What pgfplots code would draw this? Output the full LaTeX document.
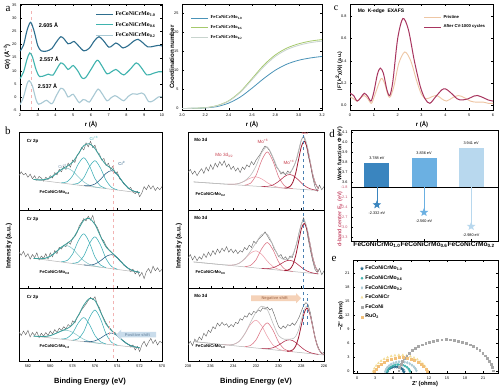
\documentclass[border=0pt]{standalone}
\usepackage{fontspec}
\setmainfont{Liberation Sans}
\newfontfamily\serif{Liberation Serif}
\usepackage{pgfplots}
\pgfplotsset{compat=1.18}
\usetikzlibrary{shapes.arrows}
\newcommand{\fs}[1]{\fontsize{#1}{#1}\selectfont}
\definecolor{aD}{HTML}{2E6E8E}
\definecolor{aT}{HTML}{3FB3AE}
\definecolor{aL}{HTML}{A9C9D4}
\definecolor{mB}{HTML}{4A93B8}
\definecolor{mG}{HTML}{A5C96B}
\definecolor{mL}{HTML}{C8D4CE}
\definecolor{cP}{HTML}{EEC6A4}
\definecolor{cA}{HTML}{A8355F}
\definecolor{rawc}{HTML}{5E5E5E}
\definecolor{bgc}{HTML}{B4B4B4}
\definecolor{env}{HTML}{3C9E9A}
\definecolor{cr6}{HTML}{86C6C9}
\definecolor{cr3}{HTML}{3CAEB6}
\definecolor{cr0}{HTML}{235A82}
\definecolor{mo1}{HTML}{EDA0AC}
\definecolor{mo2}{HTML}{DC7383}
\definecolor{mo3}{HTML}{B02A48}
\definecolor{mo4}{HTML}{9E1730}
\definecolor{moenv}{HTML}{BDBDBD}
\definecolor{lab}{HTML}{C8414F}
\definecolor{dB1}{HTML}{3A85BF}
\definecolor{dB2}{HTML}{6BB0E2}
\definecolor{dB3}{HTML}{B8D8EE}
\definecolor{dpink}{HTML}{C9516E}
\definecolor{eFN}{HTML}{A8A8A8}
\definecolor{eRu}{HTML}{F2C07A}
\definecolor{eCr}{HTML}{F3DE9A}
\definecolor{vpink}{HTML}{F2B3B3}
\definecolor{vblue}{HTML}{4A7FB0}
\definecolor{crarr}{HTML}{C9DCEB}
\definecolor{crtxt}{HTML}{7C97B0}
\definecolor{moarr}{HTML}{F5D2B8}
\definecolor{motxt}{HTML}{B07E62}
\pgfdeclareplotmark{fstar}{%
  \pgfpathmoveto{\pgfpointpolar{90}{\pgfplotmarksize}}%
  \pgfpathlineto{\pgfpointpolar{126}{0.42\pgfplotmarksize}}%
  \pgfpathlineto{\pgfpointpolar{162}{\pgfplotmarksize}}%
  \pgfpathlineto{\pgfpointpolar{198}{0.42\pgfplotmarksize}}%
  \pgfpathlineto{\pgfpointpolar{234}{\pgfplotmarksize}}%
  \pgfpathlineto{\pgfpointpolar{270}{0.42\pgfplotmarksize}}%
  \pgfpathlineto{\pgfpointpolar{306}{\pgfplotmarksize}}%
  \pgfpathlineto{\pgfpointpolar{342}{0.42\pgfplotmarksize}}%
  \pgfpathlineto{\pgfpointpolar{18}{\pgfplotmarksize}}%
  \pgfpathlineto{\pgfpointpolar{54}{0.42\pgfplotmarksize}}%
  \pgfpathclose
  \pgfusepathqfillstroke}
\pgfplotsset{
  base/.style={scale only axis, anchor=south west, line width=0.4pt,
    major tick length=1.6pt, minor tick length=1pt,
    every tick/.style={line width=0.3pt, black},
    tick label style={font=\fs{3.8}},
    /pgf/number format/assume math mode=true},
  crax/.style={base, width=143pt, xmin=570, xmax=582.8, x dir=reverse, ymin=0, ymax=100,
    ytick=\empty, xtick={570,572,...,582}, minor x tick num=1, tick pos=left},
  moax/.style={base, width=136pt, xmin=226, xmax=238, x dir=reverse, ymin=0, ymax=100,
    ytick=\empty, xtick={226,228,...,238}, minor x tick num=1, tick pos=left},
  rawst/.style={color=rawc, line width=0.4pt},
  bgst/.style={color=bgc, line width=0.5pt},
  envst/.style={color=env, line width=0.8pt, smooth},
  compst/.style={line width=0.55pt, smooth},
  moenvst/.style={color=moenv, line width=0.6pt, smooth},
}
\begin{document}
\begin{tikzpicture}[x=1pt,y=1pt]
\fill[white] (0,0) rectangle (500,389);
\path[use as bounding box] (0,0) rectangle (500,389);

%================ panel a (left) =================
\begin{axis}[base, at={(20pt,279pt)}, width=142pt, height=106pt,
  xmin=2, xmax=10, ymin=-5, ymax=35.5, xtick={2,...,10}, ytick={-5,0,...,35},
  legend style={draw=none, fill=none, font=\serif\bfseries\fs{5.8}, at={(0.99,0.97)}, anchor=north east, row sep=1.2pt},
  legend cell align=left]
\draw[dashed, color=vpink, line width=0.6pt] (axis cs:2.65,-5) -- (axis cs:2.65,33.5);
\addplot[aD, line width=1.1pt, smooth] coordinates {(2.0,17.5) (2.2,19.8) (2.4,25.5) (2.6,28.5) (2.8,25.0) (3.0,19.6) (3.2,17.6) (3.5,17.5) (3.8,18.5) (4.0,20.5) (4.3,23.0) (4.5,22.0) (4.7,20.3) (4.85,20.5) (5.05,21.2) (5.3,19.5) (5.6,17.6) (5.9,18.6) (6.2,21.5) (6.45,23.0) (6.7,21.5) (7.0,19.0) (7.2,19.6) (7.4,20.6) (7.6,19.8) (7.8,18.7) (8.1,19.6) (8.4,21.3) (8.65,22.0) (8.9,20.8) (9.2,19.1) (9.5,19.3) (9.8,19.7) (10.0,19.5)};
\addlegendentry{FeCoNiCrMo\textsubscript{1.0}}
\addplot[aT, line width=1.1pt, smooth] coordinates {(2.0,7.0) (2.2,9.5) (2.4,14.5) (2.55,16.8) (2.7,15.3) (2.9,10.5) (3.1,7.8) (3.4,8.2) (3.6,8.7) (3.85,8.3) (4.1,11.0) (4.3,13.0) (4.5,12.2) (4.7,10.5) (4.85,11.2) (5.0,12.0) (5.25,10.0) (5.5,7.2) (5.7,7.4) (6.0,10.5) (6.35,14.0) (6.6,12.0) (6.9,8.8) (7.15,9.6) (7.4,10.5) (7.6,9.5) (7.85,8.4) (8.2,10.5) (8.55,13.0) (8.8,11.5) (9.15,8.4) (9.5,9.0) (9.8,9.6) (10.0,9.6)};
\addlegendentry{FeCoNiCrMo\textsubscript{0.6}}
\addplot[aL, line width=1.1pt, smooth] coordinates {(2.0,-3.0) (2.2,0.0) (2.4,5.0) (2.52,6.2) (2.7,4.2) (2.9,-1.0) (3.05,-2.8) (3.3,-2.0) (3.5,-1.3) (3.8,-2.6) (4.05,0.5) (4.3,3.3) (4.5,2.5) (4.7,0.0) (4.85,0.5) (5.0,1.0) (5.2,-1.0) (5.35,-2.2) (5.55,-1.0) (5.7,-1.2) (5.9,-2.0) (6.15,0.5) (6.4,3.0) (6.6,1.5) (6.9,-1.5) (7.1,-0.5) (7.35,0.5) (7.6,-0.5) (7.85,-1.5) (8.1,0.2) (8.35,1.2) (8.6,1.0) (8.85,1.5) (9.0,1.0) (9.25,-1.8) (9.5,-1.5) (9.8,0.0) (10.0,0.0)};
\addlegendentry{FeCoNiCrMo\textsubscript{0.2}}
\node[font=\bfseries\fs{5.5}] at (axis cs:3.6,27.5) {2.605 Å};
\node[font=\bfseries\fs{5.5}] at (axis cs:3.65,14.5) {2.557 Å};
\node[font=\bfseries\fs{5.5}] at (axis cs:3.55,4.0) {2.537 Å};
\end{axis}

%================ panel a (middle) =================
\begin{axis}[base, at={(182pt,279pt)}, width=140pt, height=106pt,
  xmin=2.0, xmax=3.2, ymin=-0.4, ymax=27.3, xtick={2.0,2.2,...,3.2}, ytick={0,5,...,25},
  xticklabel style={/pgf/number format/.cd, fixed, fixed zerofill, precision=1},
  legend style={draw=none, fill=none, font=\serif\bfseries\fs{4.6}, at={(0.04,0.93)}, anchor=north west, row sep=1pt},
  legend cell align=left]
\addplot[mB, line width=0.8pt, smooth] coordinates {(2.0,0) (2.1,0.03) (2.2,0.15) (2.3,0.5) (2.4,1.4) (2.5,3.0) (2.6,5.3) (2.7,7.8) (2.8,10.0) (2.9,11.6) (3.0,12.6) (3.1,13.2) (3.2,13.6)};
\addlegendentry{FeCoNiCrMo\textsubscript{1.0}}
\addplot[mG, line width=0.8pt, smooth] coordinates {(2.0,0) (2.1,0.05) (2.2,0.2) (2.3,0.75) (2.4,2.0) (2.5,4.4) (2.6,7.8) (2.7,11.3) (2.8,14.0) (2.9,15.8) (3.0,16.9) (3.1,17.6) (3.2,18.0)};
\addlegendentry{FeCoNiCrMo\textsubscript{0.6}}
\addplot[mL, line width=0.8pt, smooth] coordinates {(2.0,0) (2.1,0.04) (2.2,0.18) (2.3,0.7) (2.4,1.9) (2.5,4.2) (2.6,7.5) (2.7,10.9) (2.8,13.6) (2.9,15.4) (3.0,16.5) (3.1,17.2) (3.2,17.6)};
\addlegendentry{FeCoNiCrMo\textsubscript{0.2}}
\end{axis}

%================ panel c =================
\begin{axis}[base, at={(350pt,279pt)}, width=143pt, height=106pt,
  xmin=0, xmax=6, ymin=-0.04, ymax=0.91, xtick={0,...,6}, ytick={0,0.2,...,0.8},
  yticklabel style={/pgf/number format/.cd, fixed, fixed zerofill, precision=1},
  legend style={draw=none, fill=none, font=\bfseries\fs{4.2}, at={(0.98,0.93)}, anchor=north east, row sep=0.6pt},
  legend cell align=left]
\addplot[cP, line width=0.9pt, smooth] coordinates {(0,0.08) (0.15,0.06) (0.3,0.04) (0.45,0.07) (0.6,0.09) (0.75,0.06) (0.9,0.02) (1.05,0.10) (1.3,0.24) (1.45,0.20) (1.6,0.09) (1.7,0.08) (1.85,0.18) (2.05,0.38) (2.3,0.48) (2.55,0.40) (2.8,0.22) (3.0,0.10) (3.2,0.06) (3.45,0.08) (3.65,0.09) (3.85,0.06) (4.05,0.04) (4.3,0.07) (4.55,0.09) (4.8,0.07) (5.05,0.04) (5.3,0.03) (5.6,0.03) (5.8,0.02) (6.0,0.02)};
\addlegendentry{Pristine}
\addplot[cA, line width=1pt, smooth] coordinates {(0,0.11) (0.15,0.09) (0.3,0.04) (0.45,0.07) (0.6,0.11) (0.75,0.08) (0.88,0.04) (1.0,0.12) (1.15,0.28) (1.27,0.335) (1.4,0.29) (1.55,0.14) (1.67,0.09) (1.8,0.22) (2.0,0.60) (2.22,0.78) (2.45,0.68) (2.7,0.40) (2.95,0.17) (3.15,0.06) (3.35,0.02) (3.6,0.08) (3.85,0.14) (4.0,0.15) (4.2,0.12) (4.5,0.06) (4.7,0.05) (4.95,0.06) (5.2,0.085) (5.35,0.09) (5.6,0.07) (5.8,0.05) (6.0,0.04)};
\addlegendentry{After CV-1000 cycles}
\node[font=\bfseries\fs{5}, anchor=west] at (rel axis cs:0.03,0.93) {Mo\ \ K-edge\ \ EXAFS};
\end{axis}

%================ panel b : Cr 2p =================
\begin{axis}[crax, at={(19pt,179pt)}, height=78pt, xticklabels={}]
\addplot[rawst] coordinates {(582.8,44) (582.6,49) (582.4,45) (582.2,47) (582.0,42) (581.8,46) (581.6,40) (581.4,44) (581.2,38) (581.0,43) (580.8,41) (580.6,37) (580.4,42) (580.2,39) (580.0,44) (579.8,41) (579.6,48) (579.4,45) (579.2,52) (579.0,49) (578.8,56) (578.6,52) (578.4,60) (578.2,55) (578.0,64) (577.8,61) (577.6,70) (577.4,73) (577.2,80) (577.0,77) (576.8,86) (576.6,81) (576.4,88) (576.2,80) (576.0,83) (575.8,74) (575.6,72) (575.4,64) (575.2,66) (575.0,57) (574.8,60) (574.6,52) (574.4,56) (574.2,47) (574.0,49) (573.8,40) (573.6,38) (573.4,33) (573.2,31) (573.0,27) (572.8,29) (572.6,23) (572.4,21) (572.2,24) (572.0,17) (571.8,22) (571.6,30) (571.4,26) (571.2,32) (571.0,27) (570.8,31) (570.6,25) (570.4,29) (570.2,26) (570.0,30)};
\addplot[bgst] coordinates {(572,22) (581.5,39.1)};
\addplot[compst, cr6] coordinates {(575.5,28.4) (576,29.6) (576.5,31.8) (577,36.0) (577.5,42.7) (578,49.9) (578.5,53.7) (579,51.7) (579.5,46.3) (580,41.4) (580.5,39.0) (581,38.6) (581.5,39.2)};
\addplot[compst, cr3] coordinates {(575,27.7) (575.5,30.8) (576,40.2) (576.5,56.9) (577,67.0) (577.5,58.7) (578,43.8) (578.5,36.2) (579,34.9)};
\addplot[compst, cr3] coordinates {(574,25.9) (574.5,28.9) (575,37.8) (575.5,53.6) (576,63.2) (576.5,55.4) (577,41.4) (577.5,34.3) (578,33.1)};
\addplot[compst, cr0] coordinates {(572,22.2) (572.5,24.0) (573,27.9) (573.5,35.7) (574,45.3) (574.5,50.5) (575,47.1) (575.5,39.3) (576,33.3) (576.5,31.2) (577,31.2)};
\addplot[envst] coordinates {(572,22.2) (572.5,24.0) (573,27.9) (573.5,35.7) (574,45.6) (574.5,52.9) (575,57.9) (575.5,67.2) (576,78.8) (576.5,84.9) (577,82.6) (577.5,71.8) (578,61.3) (578.5,56.2) (579,52.1) (579.5,46.3) (580,41.4) (580.5,39.0) (581,38.6) (581.5,39.2)};
\draw[dashed, color=vpink, line width=0.6pt] (axis cs:574.35,0) -- (axis cs:574.35,64);
\node[font=\bfseries\fs{4.5}, anchor=west] at (rel axis cs:0.03,0.88) {Cr 2p};
\node[font=\bfseries\fs{4.2}, anchor=west] at (rel axis cs:0.12,0.22) {FeCoNiCrMo\textsubscript{0.2}};
\node[font=\fs{4.3}, text=crtxt] at (axis cs:578.9,56) {Cr\textsuperscript{+6}};
\node[font=\fs{4.3}, text=cr3] at (axis cs:576.1,92) {Cr\textsuperscript{+3}};
\node[font=\fs{4.3}, text=cr0] at (axis cs:573.6,60) {Cr\textsuperscript{0}};
\end{axis}

\begin{axis}[crax, at={(19pt,101pt)}, height=78pt, xticklabels={}]
\addplot[rawst] coordinates {(582.8,46) (582.6,42) (582.4,47) (582.2,40) (582.0,44) (581.8,37) (581.6,43) (581.4,39) (581.2,45) (581.0,36) (580.8,41) (580.6,38) (580.4,44) (580.2,37) (580.0,45) (579.8,40) (579.6,48) (579.4,44) (579.2,52) (579.0,50) (578.8,55) (578.6,53) (578.4,59) (578.2,56) (578.0,64) (577.8,66) (577.6,71) (577.4,80) (577.2,84) (577.0,89) (576.8,86) (576.6,92) (576.4,87) (576.2,93) (576.0,82) (575.8,78) (575.6,71) (575.4,63) (575.2,60) (575.0,54) (574.8,50) (574.6,47) (574.4,44) (574.2,41) (574.0,39) (573.8,35) (573.6,33) (573.4,29) (573.2,27) (573.0,25) (572.8,21) (572.6,24) (572.4,18) (572.2,22) (572.0,15) (571.8,20) (571.6,12) (571.4,21) (571.2,25) (571.0,19) (570.8,28) (570.6,22) (570.4,26) (570.2,21) (570.0,24)};
\addplot[bgst] coordinates {(572,20) (581.5,38.05)};
\addplot[compst, cr6] coordinates {(575.5,26.7) (576,28.1) (576.5,30.4) (577,35.0) (577.5,42.3) (578,50.3) (578.5,54.4) (579,52.2) (579.5,46.1) (580,40.7) (580.5,38.0) (581,37.6) (581.5,38.1)};
\addplot[compst, cr3] coordinates {(575,26.1) (575.5,29.5) (576,39.8) (576.5,58.3) (577,69.5) (577.5,60.2) (578,43.6) (578.5,35.2) (579,33.7)};
\addplot[compst, cr3] coordinates {(574,24.1) (574.5,27.4) (575,37.3) (575.5,54.9) (576,65.6) (576.5,56.8) (577,41.1) (577.5,33.1) (578,31.7)};
\addplot[compst, cr0] coordinates {(572,20.1) (572.5,21.7) (573,25.0) (573.5,31.1) (574,38.6) (574.5,42.8) (575,40.5) (575.5,34.9) (576,30.7) (576.5,29.3) (577,29.6)};
\addplot[envst] coordinates {(572,20.1) (572.5,21.7) (573,25.0) (573.5,31.1) (574,38.9) (574.5,45.4) (575,52.5) (575.5,66.1) (576,81.4) (576.5,89.2) (577,86.8) (577.5,74.7) (578,62.8) (578.5,57.2) (579,52.5) (579.5,46.1) (580,40.7) (580.5,38.0) (581,37.6) (581.5,38.1)};
\draw[dashed, color=vpink, line width=0.6pt] (axis cs:574.35,0) -- (axis cs:574.35,100);
\node[font=\bfseries\fs{4.5}, anchor=west] at (rel axis cs:0.03,0.88) {Cr 2p};
\node[font=\bfseries\fs{4.2}, anchor=west] at (rel axis cs:0.12,0.2) {FeCoNiCrMo\textsubscript{0.6}};
\end{axis}

\begin{axis}[crax, at={(19pt,28pt)}, height=73pt]
\addplot[rawst] coordinates {(582.8,40) (582.6,35) (582.4,41) (582.2,36) (582.0,42) (581.8,33) (581.6,39) (581.4,35) (581.2,40) (581.0,32) (580.8,38) (580.6,34) (580.4,39) (580.2,35) (580.0,41) (579.8,37) (579.6,43) (579.4,39) (579.2,45) (579.0,42) (578.8,47) (578.6,44) (578.4,50) (578.2,47) (578.0,55) (577.8,52) (577.6,60) (577.4,64) (577.2,70) (577.0,74) (576.8,78) (576.6,83) (576.4,87) (576.2,84) (576.0,88) (575.8,78) (575.6,73) (575.4,64) (575.2,58) (575.0,52) (574.8,47) (574.6,44) (574.4,40) (574.2,39) (574.0,35) (573.8,33) (573.6,29) (573.4,27) (573.2,24) (573.0,23) (572.8,19) (572.6,22) (572.4,15) (572.2,20) (572.0,13) (571.8,22) (571.6,27) (571.4,20) (571.2,26) (571.0,31) (570.8,24) (570.6,29) (570.4,22) (570.2,27) (570.0,25)};
\addplot[bgst] coordinates {(572,18) (581.5,34.15)};
\addplot[compst, cr6] coordinates {(575.5,24.0) (576,25.1) (576.5,26.8) (577,29.7) (577.5,34.4) (578,39.3) (578.5,42.1) (579,41.0) (579.5,37.8) (580,34.8) (580.5,33.6) (581,33.6) (581.5,34.2)};
\addplot[compst, cr3] coordinates {(575,23.4) (575.5,26.3) (576,34.9) (576.5,50.2) (577,59.5) (577.5,51.9) (578,38.3) (578.5,31.4) (579,30.2)};
\addplot[compst, cr3] coordinates {(574,21.8) (574.5,25.4) (575,36.9) (575.5,57.4) (576,69.8) (576.5,59.1) (577,40.3) (577.5,30.5) (578,28.6)};
\addplot[compst, cr0] coordinates {(572,18.1) (572.5,19.6) (573,22.5) (573.5,27.9) (574,34.6) (574.5,38.3) (575,36.3) (575.5,31.3) (576,27.6) (576.5,26.4) (577,26.6)};
\addplot[envst] coordinates {(572,18.1) (572.5,19.6) (573,22.5) (573.5,27.9) (574,35.0) (574.5,41.4) (575,50.3) (575.5,67.1) (576,82.9) (576.5,85.5) (577,76.6) (577.5,62.1) (578,49.9) (578.5,44.4) (579,41.3) (579.5,37.8) (580,34.8) (580.5,33.6) (581,33.6) (581.5,34.2)};
\draw[dashed, color=vpink, line width=0.6pt] (axis cs:574.35,4) -- (axis cs:574.35,100);
\draw[dashed, color=vpink, line width=0.6pt] (axis cs:574.7,27) -- (axis cs:574.7,55);
\node[single arrow, shape border rotate=180, fill=crarr, minimum height=40pt, minimum width=10pt, single arrow head extend=2pt, inner sep=0.8pt, font=\bfseries\fs{4}, text=crtxt] at (axis cs:572.2,36) {Positive shift};
\node[font=\bfseries\fs{4.5}, anchor=west] at (rel axis cs:0.03,0.87) {Cr 2p};
\node[font=\bfseries\fs{4.2}, anchor=west] at (rel axis cs:0.12,0.2) {FeCoNiCrMo\textsubscript{1.0}};
\end{axis}

%================ panel b : Mo 3d =================
\begin{axis}[moax, at={(188pt,179pt)}, height=78pt, xticklabels={}]
\addplot[rawst] coordinates {(238.0,48) (237.8,52) (237.6,46) (237.4,50) (237.2,44) (237.0,49) (236.8,53) (236.6,47) (236.4,55) (236.2,50) (236.0,58) (235.8,52) (235.6,60) (235.4,55) (235.2,62) (235.0,57) (234.8,63) (234.6,55) (234.4,59) (234.2,52) (234.0,56) (233.8,50) (233.6,54) (233.4,48) (233.2,55) (233.0,52) (232.8,58) (232.6,55) (232.4,62) (232.2,58) (232.0,64) (231.8,68) (231.6,72) (231.4,78) (231.2,82) (231.0,80) (230.8,76) (230.6,70) (230.4,63) (230.2,55) (230.0,52) (229.8,46) (229.6,49) (229.4,45) (229.2,50) (229.0,47) (228.8,52) (228.6,58) (228.4,66) (228.2,78) (228.0,90) (227.8,95) (227.6,86) (227.4,70) (227.2,58) (227.0,42) (226.8,30) (226.6,24) (226.4,32) (226.2,26) (226.0,30)};
\addplot[bgst] coordinates {(226.5,25) (237.5,36)};
\addplot[compst, mo1] coordinates {(229.5,28.1) (230,29.0) (230.5,31.1) (231,35.0) (231.5,39.9) (232,42.5) (232.5,40.9) (233,37.0) (233.5,34.1) (234,33.0) (234.5,33.1)};
\addplot[compst, mo2] coordinates {(228.75,27.4) (229,27.9) (229.25,29.0) (229.5,31.2) (230,42.3) (230.5,62.5) (231,74.5) (231.5,63.5) (232,44.3) (232.5,34.2) (233,31.9)};
\addplot[compst, mo3] coordinates {(226.5,25.1) (226.75,25.6) (227,26.3) (227.25,27.4) (227.5,29.1) (227.75,31.6) (228,34.7) (228.25,38.4) (228.5,41.8) (228.75,44.4) (229,45.5) (229.25,44.9) (229.5,42.8) (230,36.7) (230.5,32.1) (231,30.3) (231.5,30.1)};
\addplot[compst, mo4, line width=0.8pt] coordinates {(226.5,27.7) (226.75,33.6) (227,45.6) (227.25,63.4) (227.5,80.7) (227.75,88.3) (228,81.2) (228.25,64.4) (228.5,47.1) (228.75,35.6) (229,30.2) (229.25,28.4) (229.5,28.1)};
\addplot[moenvst] coordinates {(226.5,27.9) (226.75,34.0) (227,46.4) (227.25,65.0) (227.5,83.8) (227.75,93.6) (228,89.4) (228.25,76.0) (228.5,61.9) (228.75,52.9) (229,48.6) (229.25,46.7) (229.5,46.2) (230,51.1) (230.5,67.7) (231,80.8) (231.5,73.5) (232,56.3) (232.5,44.0) (233,37.4) (233.5,34.1) (234,33.0) (234.5,33.1) (235,33.5) (236,34.5) (237,35.5) (237.5,36.0)};
\draw[dashed, color=vblue, line width=0.6pt] (axis cs:227.85,0) -- (axis cs:227.85,96);
\node[font=\bfseries\fs{4.5}, anchor=west] at (rel axis cs:0.02,0.9) {Mo 3d};
\node[font=\bfseries\fs{4.2}, anchor=west] at (rel axis cs:0.03,0.2) {FeCoNiCrMo\textsubscript{0.2}};
\node[font=\fs{4.6}, text=lab] at (axis cs:234.8,70) {Mo 3d\textsubscript{3/2}};
\node[font=\fs{4.6}, text=lab] at (axis cs:231.4,88) {Mo\textsuperscript{+6}};
\node[font=\fs{4.6}, text=lab] at (axis cs:229.1,61) {Mo\textsuperscript{+4}};
\node[font=\fs{4.6}, text=lab] at (axis cs:227.6,99) {Mo\textsuperscript{0}};
\end{axis}

\begin{axis}[moax, at={(188pt,101pt)}, height=78pt, xticklabels={}]
\addplot[rawst] coordinates {(238.0,38) (237.8,43) (237.6,36) (237.4,41) (237.2,35) (237.0,40) (236.8,37) (236.6,44) (236.4,39) (236.2,46) (236.0,41) (235.8,48) (235.6,43) (235.4,50) (235.2,45) (235.0,51) (234.8,47) (234.6,53) (234.4,46) (234.2,50) (234.0,45) (233.8,49) (233.6,44) (233.4,48) (233.2,46) (233.0,52) (232.8,49) (232.6,55) (232.4,52) (232.2,60) (232.0,57) (231.8,62) (231.6,65) (231.4,68) (231.2,72) (231.0,67) (230.8,62) (230.6,58) (230.4,50) (230.2,46) (230.0,40) (229.8,43) (229.6,37) (229.4,40) (229.2,36) (229.0,41) (228.8,39) (228.6,48) (228.4,58) (228.2,71) (228.0,82) (227.8,90) (227.6,80) (227.4,63) (227.2,48) (227.0,35) (226.8,24) (226.6,20) (226.4,25) (226.2,17) (226.0,22)};
\addplot[bgst] coordinates {(226.5,18) (237.5,33.4)};
\addplot[compst, mo1] coordinates {(229.5,22.4) (230,23.9) (230.5,27.4) (231,34.4) (231.5,43.1) (232,47.7) (232.5,44.5) (233,37.2) (233.5,31.6) (234,29.5) (234.5,29.4)};
\addplot[compst, mo2] coordinates {(228.75,21.2) (229,21.8) (229.25,22.8) (229.5,24.6) (230,33.3) (230.5,48.9) (231,58.3) (231.5,50.3) (232,36.1) (232.5,28.8) (233,27.4)};
\addplot[compst, mo3] coordinates {(226.5,18.1) (226.75,18.6) (227,19.3) (227.25,20.3) (227.5,21.8) (227.75,23.9) (228,26.5) (228.25,29.5) (228.5,32.3) (228.75,34.5) (229,35.5) (229.25,35.2) (229.5,33.7) (230,29.3) (230.5,26.0) (231,24.9) (231.5,25.1)};
\addplot[compst, mo4, line width=0.8pt] coordinates {(226.5,20.8) (226.75,26.9) (227,39.2) (227.25,57.3) (227.5,75.0) (227.75,82.8) (228,75.7) (228.25,58.7) (228.5,41.3) (228.75,29.7) (229,24.3) (229.25,22.6) (229.5,22.3)};
\addplot[moenvst] coordinates {(226.5,20.9) (226.75,27.1) (227,39.8) (227.25,58.5) (227.5,77.4) (227.75,86.9) (228,82.1) (228.25,67.7) (228.5,52.8) (228.75,43.1) (229,38.6) (229.25,36.8) (229.5,36.4) (230,40.7) (230.5,55.1) (231,69.0) (231.5,68.5) (232,58.1) (232.5,46.9) (233,37.5) (233.5,31.6) (234,29.5) (234.5,29.4) (235,29.9) (236,31.3) (237,32.7) (237.5,33.4)};
\draw[dashed, color=vblue, line width=0.6pt] (axis cs:227.85,0) -- (axis cs:227.85,100);
\node[font=\bfseries\fs{4.5}, anchor=west] at (rel axis cs:0.02,0.9) {Mo 3d};
\node[font=\bfseries\fs{4.2}, anchor=west] at (rel axis cs:0.03,0.2) {FeCoNiCrMo\textsubscript{0.6}};
\end{axis}

\begin{axis}[moax, at={(188pt,28pt)}, height=73pt]
\addplot[rawst] coordinates {(238.0,22) (237.8,27) (237.6,21) (237.4,30) (237.2,26) (237.0,33) (236.8,29) (236.6,38) (236.4,34) (236.2,42) (236.0,39) (235.8,47) (235.6,44) (235.4,52) (235.2,48) (235.0,53) (234.8,49) (234.6,51) (234.4,46) (234.2,50) (234.0,47) (233.8,53) (233.6,51) (233.4,58) (233.2,56) (233.0,62) (232.8,60) (232.6,66) (232.4,63) (232.2,68) (232.0,66) (231.8,70) (231.6,68) (231.4,73) (231.2,71) (231.0,74) (230.8,70) (230.6,72) (230.4,64) (230.2,55) (230.0,47) (229.8,44) (229.6,48) (229.4,45) (229.2,50) (229.0,48) (228.8,52) (228.6,49) (228.4,54) (228.2,60) (228.0,68) (227.8,76) (227.6,80) (227.4,77) (227.2,66) (227.0,50) (226.8,33) (226.6,22) (226.4,15) (226.2,10) (226.0,12)};
\addplot[bgst] coordinates {(226,8.2) (237.5,26.6)};
\addplot[compst, mo1] coordinates {(229,13.0) (229.5,14.1) (230,16.3) (230.5,21.9) (231,33.6) (231.5,48.2) (232,55.8) (232.5,49.8) (233,36.8) (233.5,26.7) (234,22.7) (234.5,22.1) (235,22.6)};
\addplot[compst, mo2] coordinates {(228.75,12.7) (229,13.3) (229.25,14.4) (229.5,16.3) (230,25.6) (230.5,42.2) (231,52.2) (231.5,43.8) (232,28.8) (232.5,21.1) (233,19.7)};
\addplot[compst, mo3] coordinates {(226.5,9.1) (226.75,9.7) (227,10.5) (227.25,11.7) (227.5,13.4) (227.75,15.7) (228,18.7) (228.25,22.1) (228.5,25.4) (228.75,27.8) (229,29.0) (229.25,28.6) (229.5,27.0) (230,21.9) (230.5,18.2) (231,16.9) (231.5,17.1)};
\addplot[compst, mo4, line width=0.8pt] coordinates {(226,8.9) (226.25,11.3) (226.5,17.4) (226.75,29.5) (227,47.4) (227.25,64.9) (227.5,72.6) (227.75,65.7) (228,49.0) (228.25,31.9) (228.5,20.6) (228.75,15.3) (229,13.7) (229.25,13.5)};
\addplot[moenvst] coordinates {(226,8.9) (226.25,11.4) (226.5,17.5) (226.75,29.8) (227,48.1) (227.25,66.4) (227.5,75.4) (227.75,70.4) (228,56.3) (228.25,42.2) (228.5,33.8) (228.75,30.6) (229,30.0) (229.25,29.8) (229.5,29.8) (230,34.6) (230.5,51.5) (231,70.3) (231.5,75.1) (232,66.8) (232.5,52.3) (233,37.1) (233.5,26.7) (234,22.7) (234.5,22.1) (235,22.6) (236,24.2) (237,25.8) (237.5,26.6)};
\draw[dashed, color=vblue, line width=0.6pt] (axis cs:227.85,50) -- (axis cs:227.85,100);
\draw[dashed, color=vblue, line width=0.6pt] (axis cs:227.45,50) -- (axis cs:227.45,92);
\node[single arrow, fill=moarr, minimum height=50pt, minimum width=10pt, single arrow head extend=2pt, inner sep=0.8pt, font=\bfseries\fs{4}, text=motxt] at (axis cs:230.35,86) {Negative shift};
\node[font=\bfseries\fs{4.5}, anchor=west] at (rel axis cs:0.02,0.89) {Mo 3d};
\node[font=\bfseries\fs{4.2}, anchor=west] at (rel axis cs:0.03,0.2) {FeCoNiCrMo\textsubscript{1.0}};
\end{axis}

%================ panel d =================
\begin{axis}[base, at={(351pt,202pt)}, width=147pt, height=57pt,
  xmin=-0.55, xmax=2.57, ymin=3.547, ymax=4.117, xtick=\empty,
  ytick={3.6,3.7,3.8,3.9,4.0,4.1}, tick pos=left,
  yticklabel style={/pgf/number format/.cd, fixed, fixed zerofill, precision=1}]
\addplot[ybar, bar width=25pt, bar shift=0pt, fill=dB1, draw=none] coordinates {(0,3.788)};
\addplot[ybar, bar width=25pt, bar shift=0pt, fill=dB2, draw=none] coordinates {(1,3.836)};
\addplot[ybar, bar width=25pt, bar shift=0pt, fill=dB3, draw=none] coordinates {(2,3.941)};
\node[font=\fs{3.8}, above] at (axis cs:0,3.788) {3.788 eV};
\node[font=\fs{3.8}, above] at (axis cs:1,3.836) {3.836 eV};
\node[font=\fs{3.8}, above] at (axis cs:2,3.941) {3.941 eV};
\end{axis}
\begin{axis}[base, at={(351pt,148pt)}, width=147pt, height=54pt,
  xmin=-0.55, xmax=2.57, ymin=-3.42, ymax=-1.8, xtick={0,1,2}, tick pos=left,
  xticklabels={FeCoNiCrMo\textsubscript{1.0},FeCoNiCrMo\textsubscript{0.6},FeCoNiCrMo\textsubscript{0.2}},
  xticklabel style={font=\bfseries\fs{6.6}, inner sep=1pt},
  ytick={-1.8,-2.1,-2.4,-2.7,-3.0,-3.3},
  yticklabel style={text=dpink, /pgf/number format/.cd, fixed, fixed zerofill, precision=1}]
\addplot[ycomb, draw=dB1, line width=0.6pt, mark=fstar, mark size=3.6pt, mark options={fill=dB1, draw=dB1}] coordinates {(0,-2.332)};
\addplot[ycomb, draw=dB2, line width=0.6pt, mark=fstar, mark size=3.6pt, mark options={fill=dB2, draw=dB2}] coordinates {(1,-2.560)};
\addplot[ycomb, draw=dB3, line width=0.6pt, mark=fstar, mark size=3.6pt, mark options={fill=dB3, draw=dB3}] coordinates {(2,-2.980)};
\node[font=\fs{3.8}, below] at (axis cs:0,-2.44) {-2.332 eV};
\node[font=\fs{3.8}, below] at (axis cs:1,-2.67) {-2.560 eV};
\node[font=\fs{3.8}, below] at (axis cs:2,-3.09) {-2.980 eV};
\end{axis}

%================ panel e =================
\begin{axis}[base, at={(353pt,16pt)}, width=145pt, height=113pt,
  xmin=-0.7, xmax=23.5, ymin=-0.3, ymax=23.7, xtick={0,3,...,21}, ytick={0,3,...,21},
  legend style={draw=none, fill=none, font=\bfseries\fs{5.2}, at={(0.03,0.985)}, anchor=north west, row sep=0.4pt},
  legend cell align=left]
\addplot[only marks, mark=fstar, mark size=1.5pt, color=aD] coordinates {(5.01,0.0) (5.14,0.33) (5.37,0.63) (5.68,0.86) (6.02,1.00) (6.40,1.05) (6.78,1.00) (7.13,0.86) (7.43,0.63) (7.66,0.33) (7.79,0.0)};
\addlegendentry{FeCoNiCrMo\textsubscript{1.0}}
\addplot[only marks, mark=*, mark size=1.1pt, color=aT] coordinates {(4.97,0.02) (5.12,0.41) (5.35,0.76) (5.64,1.05) (5.99,1.28) (6.38,1.43) (6.80,1.50) (7.21,1.48) (7.62,1.37) (7.99,1.18) (8.31,0.91) (8.58,0.59) (8.77,0.22) (8.83,0.02)};
\addlegendentry{FeCoNiCrMo\textsubscript{0.6}}
\addplot[only marks, mark=diamond*, mark size=1.3pt, color=aL] coordinates {(4.67,0.01) (4.81,0.46) (5.03,0.87) (5.33,1.24) (5.67,1.56) (6.07,1.81) (6.51,1.98) (6.97,2.08) (7.44,2.10) (7.91,2.03) (8.36,1.89) (8.77,1.67) (9.14,1.37) (9.46,1.03) (9.71,0.63) (9.88,0.19)};
\addlegendentry{FeCoNiCrMo\textsubscript{0.2}}
\addplot[only marks, mark=triangle*, mark size=1.3pt, color=eCr] coordinates {(2.66,0.02) (2.87,0.64) (3.17,1.22) (3.55,1.76) (3.99,2.24) (4.50,2.65) (5.07,2.99) (5.67,3.25) (6.30,3.41) (6.95,3.49) (7.61,3.48) (8.26,3.38) (8.88,3.19) (9.48,2.91) (10.03,2.56) (10.52,2.12) (10.96,1.63) (11.31,1.08) (11.59,0.48) (11.74,0.02)};
\addlegendentry{FeCoNiCr}
\addplot[only marks, mark=square*, mark size=0.9pt, color=eFN] coordinates {(6.92,0.19) (7.07,0.87) (7.28,1.54) (7.55,2.18) (7.87,2.80) (8.25,3.39) (8.67,3.94) (9.14,4.46) (9.66,4.93) (10.21,5.35) (10.80,5.73) (11.42,6.05) (12.06,6.32) (12.73,6.53) (13.41,6.68) (14.10,6.77) (14.80,6.80) (15.50,6.77) (16.19,6.68) (16.87,6.53) (17.54,6.32) (18.18,6.05) (18.80,5.73) (19.39,5.35) (19.94,4.93) (20.46,4.46) (20.93,3.94) (21.35,3.39) (21.73,2.80) (22.05,2.18) (22.32,1.54) (22.53,0.87) (22.68,0.19)};
\addlegendentry{FeCoNi}
\addplot[only marks, mark=square*, mark size=1.0pt, color=eRu] coordinates {(2.85,0.0) (3.14,0.60) (3.52,1.16) (3.96,1.65) (4.48,2.08) (5.05,2.44) (5.66,2.71) (6.30,2.89) (6.96,2.99) (7.64,2.99) (8.30,2.89) (8.94,2.71) (9.55,2.44) (10.12,2.08) (10.64,1.65) (11.08,1.16) (11.46,0.60) (11.75,0.0)};
\addlegendentry{RuO\textsubscript{2}}
\end{axis}

%================ outer labels =================
\node[font=\serif\fs{11}] at (8,380) {a};
\node[font=\serif\fs{11}] at (8,258) {b};
\node[font=\serif\fs{10}] at (336,381) {c};
\node[font=\serif\fs{11}] at (332,255) {d};
\node[font=\serif\fs{11}] at (334,130) {e};
\node[rotate=90, font=\bfseries\fs{5.8}] at (7,332) {G(r) (Å\textsuperscript{−2})};
\node[font=\bfseries\fs{6}] at (91,265) {r (Å)};
\node[rotate=90, font=\bfseries\fs{6.2}] at (172,332) {Coordination number};
\node[font=\bfseries\fs{6}] at (252,265) {r (Å)};
\node[rotate=90, font=\bfseries\fs{5}] at (339,318) {|FT k\textsuperscript{2}χ(k)| (a.u.)};
\node[font=\bfseries\fs{6}] at (422,265) {r (Å)};
\node[rotate=90, font=\bfseries\fs{6.6}] at (9,143) {Intensity (a.u.)};
\node[rotate=90, font=\bfseries\fs{6.6}] at (179,143) {Intensity (a.u.)};
\node[font=\bfseries\fs{7.5}] at (90,7) {Binding Energy (eV)};
\node[font=\bfseries\fs{7.5}] at (256,7) {Binding Energy (eV)};
\node[rotate=90, anchor=west, font=\bfseries\fs{5.4}] at (340,205) {Work function Φ (eV)};
\node[rotate=90, anchor=east, font=\bfseries\fs{5.4}, text=dpink] at (340,201) {d-band center E\textsubscript{d} (eV)};
\node[rotate=90, font=\bfseries\fs{5.6}] at (341,73) {−Z″ (ohms)};
\node[font=\bfseries\fs{5.8}] at (425,5) {Z′ (ohms)};
\end{tikzpicture}
\end{document}
